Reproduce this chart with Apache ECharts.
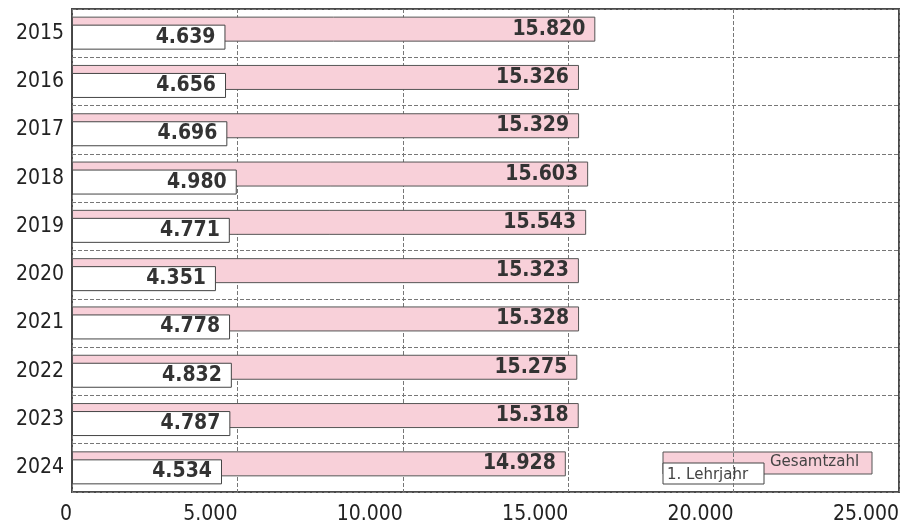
<!DOCTYPE html>
<html>
<head>
<meta charset="utf-8">
<script src="https://cdn.jsdelivr.net/npm/echarts@6/dist/echarts.min.js"></script>
<style>
html,body{margin:0;padding:0;background:#fff;}
#chart{width:906px;height:526px;}
</style>
</head>
<body>
<div id="chart"></div>
<script>
const years = ['2015','2016','2017','2018','2019','2020','2021','2022','2023','2024'];
const gesamtzahl = [15820, 15326, 15329, 15603, 15543, 15323, 15328, 15275, 15318, 14928];
const lehrjahr1 = [4639, 4656, 4696, 4980, 4771, 4351, 4778, 4832, 4787, 4534];
const seriesNames = ['Gesamtzahl', '1. Lehrjahr'];
const xTicks = [0, 5000, 10000, 15000, 20000, 25000];

function fmt(v) {
  const s = String(Math.round(v));
  return s.replace(/\B(?=(\d{3})+(?!\d))/g, '.');
}

const FONT = '"DejaVu Sans Condensed", "DejaVu Sans", sans-serif';
const chart = echarts.init(document.getElementById('chart'), null, {renderer: 'canvas'});

const labelCommon = {
  show: true,
  position: 'insideRight',
  distance: 10,
  fontFamily: FONT,
  fontWeight: 'bold',
  fontSize: 21,
  color: '#333',
  formatter: p => fmt(p.value)
};

chart.setOption({
  animation: false,
  backgroundColor: '#fff',
  grid: {
    left: 72, right: 7, top: 9, bottom: 34,
    show: true, borderColor: '#4a4a4a', borderWidth: 2, backgroundColor: 'transparent'
  },
  xAxis: {
    type: 'value',
    min: xTicks[0], max: xTicks[xTicks.length - 1], interval: 5000,
    axisLine: {show: false},
    axisTick: {show: false},
    axisLabel: {
      fontFamily: FONT, fontSize: 21, color: '#222', align: 'right', margin: 12,
      formatter: v => fmt(v)
    },
    splitLine: {show: true, lineStyle: {color: '#777', type: [4, 2], width: 1}}
  },
  yAxis: {
    type: 'category',
    data: years,
    inverse: true,
    axisLine: {show: false},
    axisTick: {show: false},
    axisLabel: {fontFamily: FONT, fontSize: 21, color: '#222', margin: 8},
    splitLine: {show: true, lineStyle: {color: '#777', type: [4, 2], width: 1}}
  },
  series: [
    {
      name: seriesNames[0], type: 'bar', data: gesamtzahl,
      barWidth: 25, barGap: '-68%',
      itemStyle: {color: '#F8D0D9', borderColor: '#555', borderWidth: 1},
      label: labelCommon
    },
    {
      name: seriesNames[1], type: 'bar', data: lehrjahr1,
      barWidth: 25, barGap: '-68%',
      itemStyle: {color: '#ffffff', borderColor: '#444', borderWidth: 1},
      label: labelCommon
    }
  ],
  graphic: [
    {type: 'rect', shape: {x: 663, y: 452, width: 209, height: 22},
     style: {fill: '#F8D0D9', stroke: '#555', lineWidth: 1}},
    {type: 'rect', shape: {x: 663, y: 463, width: 101, height: 21},
     style: {fill: '#fff', stroke: '#444', lineWidth: 1}},
    {type: 'text', x: 770, y: 462, style: {text: seriesNames[0], fontFamily: '"DejaVu Sans", sans-serif', fontSize: 15, fill: '#444', verticalAlign: 'middle', align: 'left'}},
    {type: 'text', x: 667, y: 475, style: {text: seriesNames[1], fontFamily: '"DejaVu Sans", sans-serif', fontSize: 15, fill: '#444', verticalAlign: 'middle', align: 'left'}}
  ]
});
</script>
</body>
</html>
